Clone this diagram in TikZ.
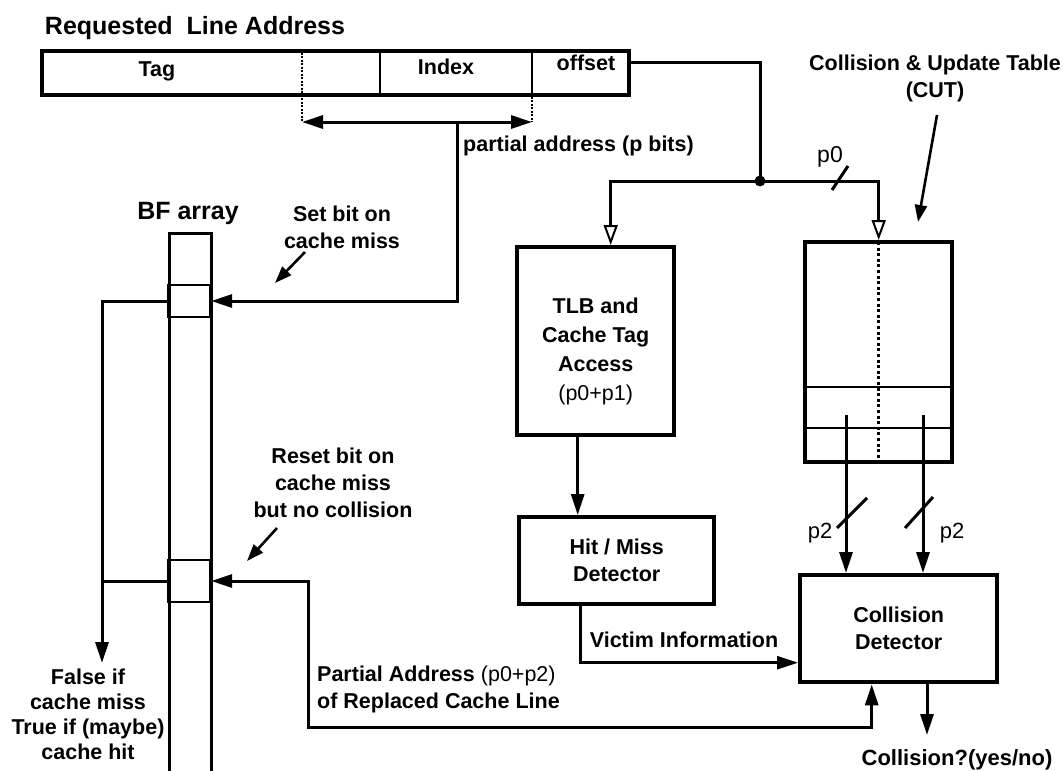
\documentclass[tikz,border=0pt]{standalone}
\usepackage{fontspec}
\setmainfont{Liberation Sans}
\usetikzlibrary{arrows.meta}
\begin{document}
\begin{tikzpicture}[x=1pt,y=-1pt,
  box/.style={draw, line width=4.4pt, inner sep=0pt},
  conn/.style={line width=3pt},
  arr/.style={conn, -{Triangle[length=21pt,width=13pt]}},
  oarr/.style={conn, -{Triangle[open,length=20pt,width=14pt,line width=2pt]}},
  note/.style={line width=2.6pt, -{Triangle[length=17pt,width=12pt]}},
  lbl/.style={font=\fontsize{21.5}{27}\selectfont\bfseries, align=center, inner sep=0pt},
  rlbl/.style={font=\fontsize{22}{27}\selectfont, inner sep=0pt},
  cell/.style={draw, line width=2.4pt, inner sep=0pt, minimum width=42pt}]
\useasboundingbox (0,0) rectangle (1063,771);

% ---------- requested line address ----------
\node[font=\fontsize{25}{30}\selectfont\bfseries, inner sep=0pt] (title) at (195,28) {Requested\ \ Line Address};
\node[box, anchor=north west, minimum width=587pt, minimum height=44pt] (bar) at (40,49) {};
\draw[line width=1.8pt, dash pattern=on 2pt off 1.5pt] (302,49) -- (302,122);
\draw[line width=2.6pt] (380,49) -- (380,93);
\draw[line width=2.6pt] (532,49) -- (532,93);
\draw[line width=1.8pt, dash pattern=on 2pt off 1.5pt] (532,93) -- (532,122);
\node[lbl] (tag) at (157,71) {Tag};
\node[lbl] (index) at (446,67) {Index};
\node[lbl] (offset) at (586,63) {offset};

\coordinate (pa1) at (302,122);
\coordinate (pa2) at (532,122);
\coordinate (paj) at (457,122);
\draw[conn, {Triangle[length=21pt,width=13pt]}-{Triangle[length=21pt,width=13pt]}] (pa1) -- (pa2);
\node[lbl, anchor=west] (plbl) at (463,146) {partial address (p bits)};

% ---------- BF array ----------
\node[font=\fontsize{25}{30}\selectfont\bfseries, inner sep=0pt] (bflbl) at (188,213) {BF array};
\node[draw, line width=3.4pt, anchor=north west, minimum width=42pt, minimum height=580pt, inner sep=0pt] (bf) at (168,232) {};
\node[cell, minimum height=32pt] (bfc1) at (189,301) {};
\node[cell, minimum height=42pt] (bfc2) at (189,581) {};

\draw[arr] (paj) |- (bfc1.east);
\coordinate (outc) at (102,663);
\draw[arr] (bfc1.west) -| (outc);
\draw[conn] (bfc2.west) -- (bfc2.west -| outc);

\node[lbl] (setlbl) at (342,227) {Set bit on\\cache miss};
\coordinate (sa1) at (305,252);
\coordinate (sa2) at (275,283);
\draw[note] (sa1) -- (sa2);

\node[lbl] (rstlbl) at (333,483) {Reset bit on\\cache miss\\but no collision};
\coordinate (ra1) at (277,528);
\coordinate (ra2) at (247,561);
\draw[note] (ra1) -- (ra2);

\node[lbl, font=\fontsize{21.5}{25}\selectfont\bfseries] (falselbl) at (88,714) {False if\\cache miss\\True if (maybe)\\cache hit};

% ---------- offset routing ----------
\coordinate (dot) at (760,181);
\draw[conn] ([yshift=11pt]bar.east) -| (dot);
\fill (dot) circle (5.5pt);

% ---------- TLB ----------
\node[box, anchor=north west, minimum width=157pt, minimum height=188pt, lbl, font=\fontsize{21.5}{29}\selectfont\bfseries] (tlb) at (515,245) {\\[8pt]TLB and\\Cache Tag\\Access\\{\mdseries (p0+p1)}};
\draw[oarr] (dot) -| ([xshift=15pt]tlb.north);

% ---------- CUT ----------
\node[box, anchor=north west, minimum width=147pt, minimum height=220pt] (cut) at (803,240) {};
\draw[oarr] (dot) -| (cut.north);
\draw[line width=3.2pt, dash pattern=on 3pt off 2.6pt] ([yshift=-2pt]cut.north) -- ([yshift=2pt]cut.south);
\draw[line width=2.6pt] (803,387) -- (950,387);
\draw[line width=2.6pt] (803,428) -- (950,428);
\node[lbl] (cutlbl) at (935,78) {Collision \& Update Table\\(CUT)};
\coordinate (ca1) at (937,115);
\coordinate (ca2) at (918,222);
\draw[note] (ca1) -- (ca2);
\draw[conn] (832,190) -- (848,166);
\node[rlbl, font=\fontsize{23}{27}\selectfont] (p0lbl) at (830,157) {p0};

% ---------- Hit / Miss ----------
\node[box, anchor=north west, minimum width=195pt, minimum height=87pt, lbl] (hit) at (517,515) {Hit / Miss\\Detector};
\draw[arr] ([xshift=-18pt]tlb.south) -- ([xshift=-18pt]tlb.south |- hit.north);

% ---------- Collision detector ----------
\node[box, anchor=north west, minimum width=197pt, minimum height=107pt, lbl] (cd) at (798,573) {Collision\\Detector};
\coordinate (cl) at (846,415);
\coordinate (cr) at (923,415);
\draw[arr] (cl) -- (cl |- cd.north);
\draw[arr] (cr) -- (cr |- cd.north);
\draw[conn] (837,528) -- (867,498);
\draw[conn] (905,528) -- (933,497);
\node[rlbl] (p2l) at (820,533) {p2};
\node[rlbl] (p2r) at (952,533) {p2};

\draw[arr] ([xshift=-36pt]hit.south) |- ([yshift=-34pt]cd.west);
\node[lbl] (victim) at (684,640) {Victim Information};

\coordinate (outcd) at (927,735);
\draw[arr] (cd.south -| outcd) -- (outcd);
\node[lbl, font=\fontsize{22}{27}\selectfont\bfseries] (colq) at (957,760) {Collision?(yes/no)};

% ---------- replaced line address ----------
\coordinate (bend) at (308,727);
\draw[conn, {Triangle[length=21pt,width=13pt]}-{Triangle[length=21pt,width=13pt]}] (bfc2.east) -| (bend) -| ([xshift=-27pt]cd.south);
\node[lbl, anchor=west, align=left] (palbl) at (317,689) {Partial Address {\mdseries (p0+p2)}\\of Replaced Cache Line};

\end{tikzpicture}
\end{document}
